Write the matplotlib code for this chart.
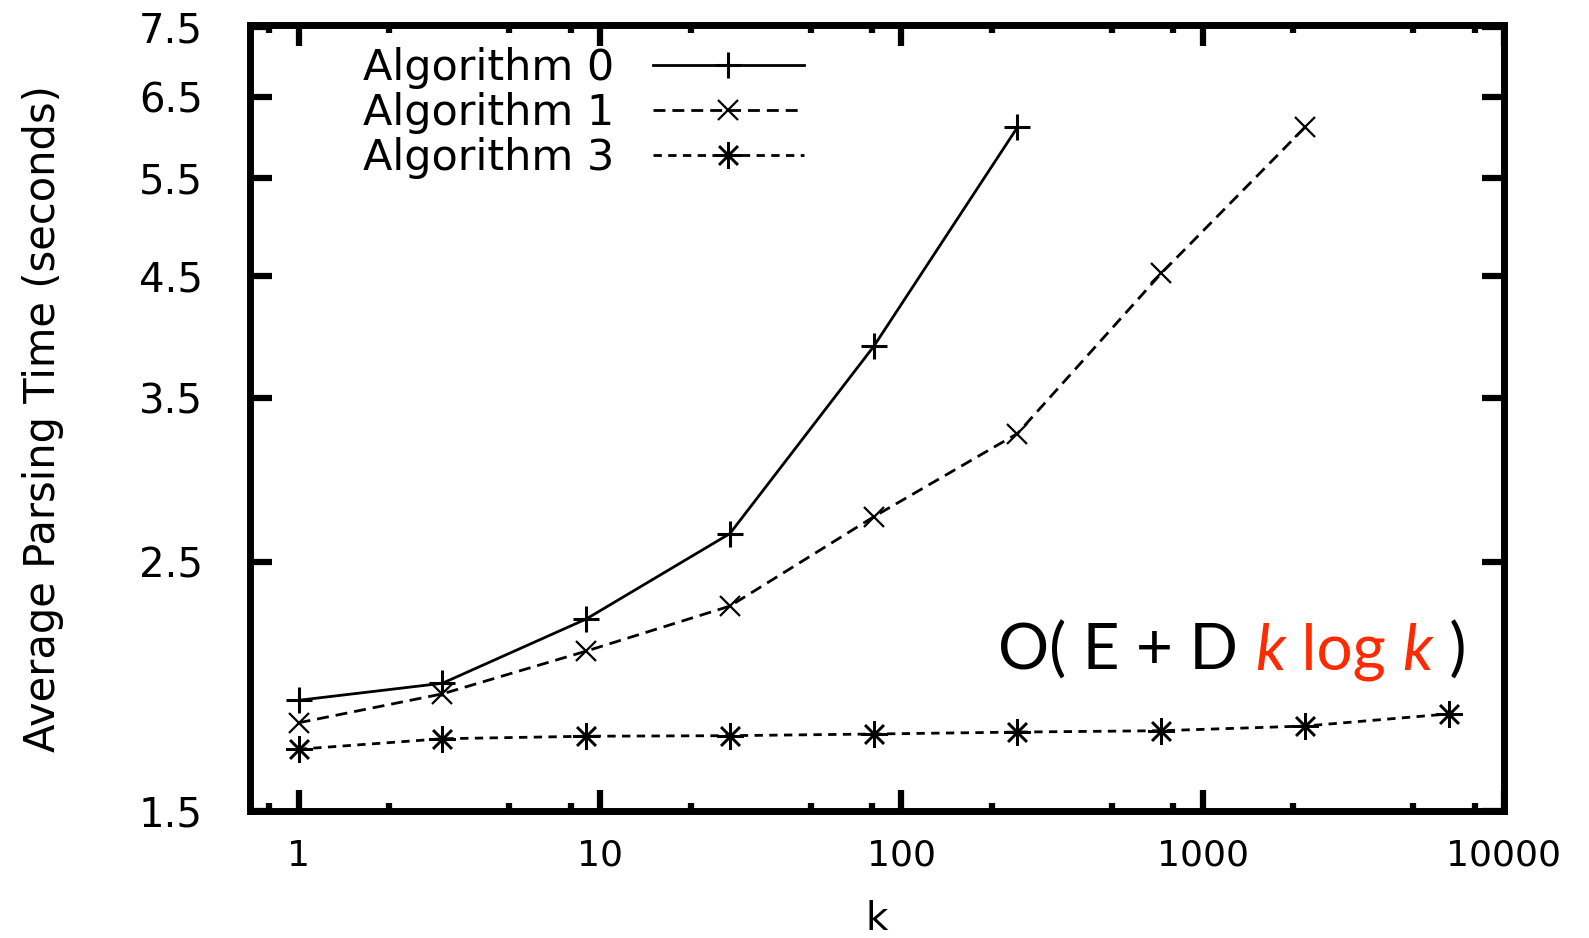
#!/usr/bin/env python3
"""Average parsing time vs k for three algorithms (gnuplot-style log-log chart)."""

import numpy as np
import matplotlib
matplotlib.use("Agg")
import matplotlib.pyplot as plt
from matplotlib.ticker import FixedLocator, FixedFormatter, NullLocator
from matplotlib.offsetbox import TextArea, HPacker, AnnotationBbox

# k values (powers of 3)
k_alg0 = [1, 3, 9, 27, 81, 243]
k_alg1 = [1, 3, 9, 27, 81, 243, 729, 2187]
k_alg3 = [1, 3, 9, 27, 81, 243, 729, 2187, 6561]

# average parsing time (seconds)
t_alg0 = [1.883, 1.950, 2.225, 2.652, 3.895, 6.11]
t_alg1 = [1.798, 1.908, 2.083, 2.285, 2.745, 3.257, 4.526, 6.11]
t_alg3 = [1.703, 1.740, 1.749, 1.751, 1.757, 1.764, 1.769, 1.786, 1.831]

labels = ["Algorithm 0", "Algorithm 1", "Algorithm 3"]

y_ticks = [1.5, 2.5, 3.5, 4.5, 5.5, 6.5, 7.5]
x_ticks = [1, 10, 100, 1000, 10000]
x_minor = [0.8, 2, 5, 8, 20, 50, 80, 200, 500, 800, 2000, 5000, 8000]

RED = "#ff2a00"

fig = plt.figure(figsize=(15.89, 9.38), dpi=100)
ax = fig.add_axes([250 / 1589, 1 - 811 / 938, 1254 / 1589, 785.5 / 938])

ax.plot(k_alg0, t_alg0, color="black", lw=2, ls="-",
        marker="+", ms=19, mew=2.2, label=labels[0])
ax.plot(k_alg1, t_alg1, color="black", lw=2, dashes=(4.3, 2.5),
        marker="x", ms=14, mew=1.6, label=labels[1])
ax.plot(k_alg3, t_alg3, color="black", lw=2, dashes=(3.0, 2.3),
        marker=(8, 2, 0), ms=19, mew=1.8, label=labels[2])

ax.set_xscale("log")
ax.set_yscale("log")
ax.set_xlim(0.69, 10000)
ax.set_ylim(1.5, 7.53)

ax.xaxis.set_major_locator(FixedLocator(x_ticks))
ax.xaxis.set_major_formatter(FixedFormatter([str(v) for v in x_ticks]))
ax.xaxis.set_minor_locator(FixedLocator(x_minor))
ax.xaxis.set_minor_formatter(FixedFormatter([""] * len(x_minor)))
ax.yaxis.set_major_locator(FixedLocator(y_ticks))
ax.yaxis.set_major_formatter(FixedFormatter([f"{v:.1f}" for v in y_ticks]))
ax.yaxis.set_minor_locator(NullLocator())

for s in ax.spines.values():
    s.set_linewidth(5)

ax.tick_params(which="both", direction="in", top=True, right=True,
               width=4.5, color="black")
ax.tick_params(axis="x", which="major", length=15, pad=20, labelsize=26)
ax.tick_params(axis="x", which="minor", length=6)
ax.tick_params(axis="y", which="major", length=16, pad=34, labelsize=29)

ax.set_xlabel("k", fontsize=28)
ax.xaxis.set_label_coords(0.5, -0.113)
ax.set_ylabel("Average Parsing Time (seconds)", fontsize=30)
ax.yaxis.set_label_coords(-0.148, 0.5)

ax.legend(loc="upper left", bbox_to_anchor=(0.09, 0.972), frameon=False,
          markerfirst=False, fontsize=31, handlelength=3.5, handletextpad=0.9,
          labelspacing=0.06, borderpad=0, borderaxespad=0, numpoints=1)

# complexity annotation, red part for the k log k term
fam = ["Lato", "DejaVu Sans"]
pieces = [
    ("O( E + D ", "black", "normal"),
    ("k", RED, "italic"),
    (" log ", RED, "normal"),
    ("k", RED, "italic"),
    (" )", "black", "normal"),
]
boxes = [TextArea(s, textprops=dict(color=c, style=st, family=fam, size=46))
         for s, c, st in pieces]
packed = HPacker(children=boxes, align="baseline", pad=0, sep=0)
ab = AnnotationBbox(packed, (0.9697, 0.165), xycoords="axes fraction",
                    box_alignment=(1, 0), frameon=False, pad=0)
ax.add_artist(ab)

fig.savefig("out.png", dpi=100, facecolor="white")
